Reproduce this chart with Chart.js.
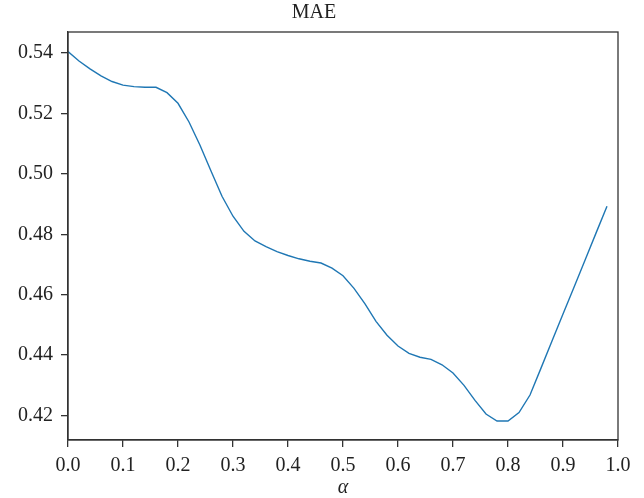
<!DOCTYPE html>
<html>
<head>
<meta charset="utf-8">
<script src="https://cdn.jsdelivr.net/npm/chart.js@4.4.0/dist/chart.umd.min.js"></script>
<style>
  html, body { margin: 0; padding: 0; background: white; }
  #wrap { width: 644px; height: 498px; }
</style>
</head>
<body>
<div id="wrap"><canvas id="mae"></canvas></div>
<script>
// alpha values (0 .. 0.98, step 0.02)
var alphas = [0.00, 0.02, 0.04, 0.06, 0.08, 0.10, 0.12, 0.14, 0.16, 0.18,
              0.20, 0.22, 0.24, 0.26, 0.28, 0.30, 0.32, 0.34, 0.36, 0.38,
              0.40, 0.42, 0.44, 0.46, 0.48, 0.50, 0.52, 0.54, 0.56, 0.58,
              0.60, 0.62, 0.64, 0.66, 0.68, 0.70, 0.72, 0.74, 0.76, 0.78,
              0.80, 0.82, 0.84, 0.86, 0.88, 0.90, 0.92, 0.94, 0.96, 0.98];
var maeValues = [0.5405, 0.5374, 0.5348, 0.5325, 0.5306, 0.5294, 0.5289, 0.5287, 0.5287, 0.5269,
                 0.5234, 0.5172, 0.5095, 0.5010, 0.4926, 0.4860, 0.4810, 0.4778, 0.4759, 0.4743,
                 0.4730, 0.4719, 0.4711, 0.4705, 0.4688, 0.4663, 0.4621, 0.4570, 0.4512, 0.4466,
                 0.4430, 0.4406, 0.4393, 0.4386, 0.4368, 0.4341, 0.4300, 0.4250, 0.4205, 0.4182,
                 0.4182, 0.4210, 0.4268, 0.4357, 0.4447, 0.4536, 0.4625, 0.4714, 0.4804, 0.4893];
var yTicks = [0.42, 0.44, 0.46, 0.48, 0.50, 0.52, 0.54];
var xTicks = [0.0, 0.1, 0.2, 0.3, 0.4, 0.5, 0.6, 0.7, 0.8, 0.9, 1.0];

var points = alphas.map(function (a, i) { return {x: a, y: maeValues[i]}; });

var axisColour = '#333333';
var serif = "'Liberation Serif', 'DejaVu Serif', serif";

// full frame around the plot area
var frame = {
    id: 'frame',
    afterDraw: function (chart) {
        var a = chart.chartArea;
        var ctx = chart.ctx;
        ctx.save();
        ctx.strokeStyle = axisColour;
        ctx.lineWidth = 1.3;
        ctx.strokeRect(a.left, a.top, a.right - a.left, a.bottom - a.top);
        ctx.restore();
    }
};

new Chart(document.getElementById('mae'), {
    type: 'line',
    data: {
        datasets: [{
            label: 'MAE',
            data: points,
            borderColor: 'rgb(31,119,180)',
            borderWidth: 1.4,
            pointRadius: 0,
            tension: 0,
            fill: false
        }]
    },
    options: {
        responsive: true,
        maintainAspectRatio: false,
        animation: false,
        layout: { padding: { left: 10, right: 26, top: 0, bottom: -2 } },
        plugins: {
            legend: { display: false },
            tooltip: { enabled: false },
            title: {
                display: true,
                text: 'MAE',
                color: '#222',
                font: { family: serif, size: 20, weight: 'normal' },
                padding: { top: 1, bottom: 7 }
            }
        },
        scales: {
            x: {
                type: 'linear',
                min: 0,
                max: 1,
                afterBuildTicks: function (axis) {
                    axis.ticks = xTicks.map(function (v) { return {value: v}; });
                },
                grid: { drawOnChartArea: false, color: axisColour, tickLength: 7, lineWidth: 1.3 },
                border: { color: axisColour, width: 1.3 },
                ticks: {
                    color: '#222',
                    padding: 7,
                    maxRotation: 0,
                    font: { family: serif, size: 20 },
                    callback: function (v) { return Number(v).toFixed(1); }
                },
                title: {
                    display: true,
                    text: 'α',
                    color: '#222',
                    padding: { top: -9, bottom: 0 },
                    font: { family: serif, size: 20, style: 'italic' }
                }
            },
            y: {
                min: 0.4119,
                max: 0.547,
                afterBuildTicks: function (axis) {
                    axis.ticks = yTicks.map(function (v) { return {value: v}; });
                },
                grid: { drawOnChartArea: false, color: axisColour, tickLength: 7, lineWidth: 1.3 },
                border: { color: axisColour, width: 1.3 },
                ticks: {
                    color: '#222',
                    padding: 8,
                    font: { family: serif, size: 20 },
                    callback: function (v) { return Number(v).toFixed(2); }
                }
            }
        }
    },
    plugins: [frame]
});
</script>
</body>
</html>
